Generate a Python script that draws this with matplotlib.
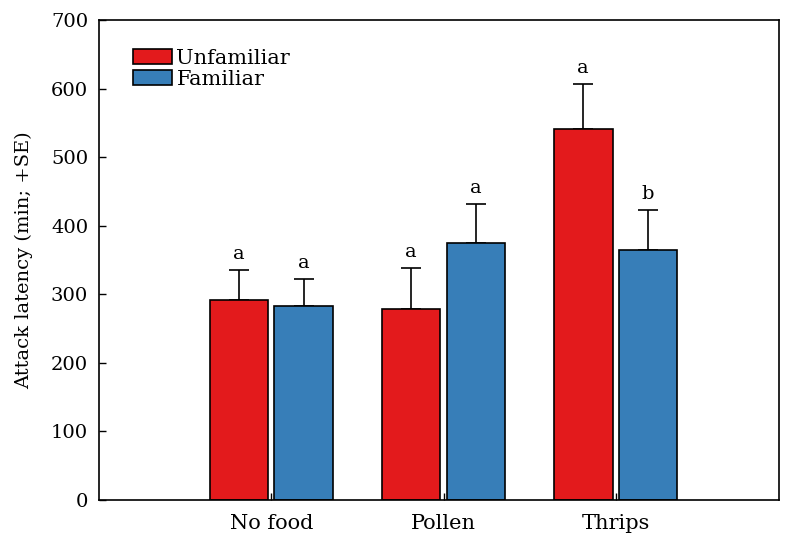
import matplotlib
matplotlib.use("Agg")
import matplotlib.pyplot as plt
import numpy as np

# Данные
categories = ["No food", "Pollen", "Thrips"]
unfamiliar = [292, 279, 541]
unfamiliar_se = [43, 59, 66]
familiar = [283, 375, 365]
familiar_se = [40, 57, 58]
letters_unf = ["a", "a", "a"]
letters_fam = ["a", "a", "b"]

plt.rcParams['font.family'] = ['DejaVu Serif']

fig = plt.figure(figsize=(8, 5.46), dpi=100)
ax = fig.add_axes([0.124, 0.0842, 0.85, 0.8792])

x = np.arange(1, len(categories) + 1)
w = 0.34
off = 0.188

ax.bar(x - off, unfamiliar, w, color='#e31a1c', edgecolor='black', linewidth=1.2,
       label='Unfamiliar', zorder=2)
ax.bar(x + off, familiar, w, color='#377eb8', edgecolor='black', linewidth=1.2,
       label='Familiar', zorder=2)

# Планки ошибок (только вверх)
ax.errorbar(x - off, unfamiliar, yerr=[np.zeros(3), unfamiliar_se], fmt='none',
            ecolor='black', elinewidth=1.2, capsize=7, capthick=1.2, zorder=1)
ax.errorbar(x + off, familiar, yerr=[np.zeros(3), familiar_se], fmt='none',
            ecolor='black', elinewidth=1.2, capsize=7, capthick=1.2, zorder=1)

# Буквы значимости
for xi, v, se, t in zip(x - off, unfamiliar, unfamiliar_se, letters_unf):
    ax.text(xi, v + se + 10, t, ha='center', va='bottom', fontsize=14)
for xi, v, se, t in zip(x + off, familiar, familiar_se, letters_fam):
    ax.text(xi, v + se + 10, t, ha='center', va='bottom', fontsize=14)

ax.set_xlim(0, 3.95)
ax.set_ylim(0, 700)
ax.set_yticks(range(0, 701, 100))
ax.set_xticks(x)
ax.set_xticklabels(categories, fontsize=15)
ax.tick_params(axis='y', direction='in', length=5, width=1, labelsize=14, pad=8)
ax.tick_params(axis='x', direction='in', length=5, width=1, pad=10)
ax.set_ylabel('Attack latency (min; +SE)', fontsize=14, labelpad=13)

for s in ax.spines.values():
    s.set_linewidth(1.2)

ax.legend(loc='upper left', bbox_to_anchor=(0.034, 0.962), frameon=False, fontsize=15,
          borderpad=0, handlelength=1.9, handleheight=0.7, handletextpad=0.2,
          labelspacing=0.1)

plt.savefig('out.png', dpi=100)
